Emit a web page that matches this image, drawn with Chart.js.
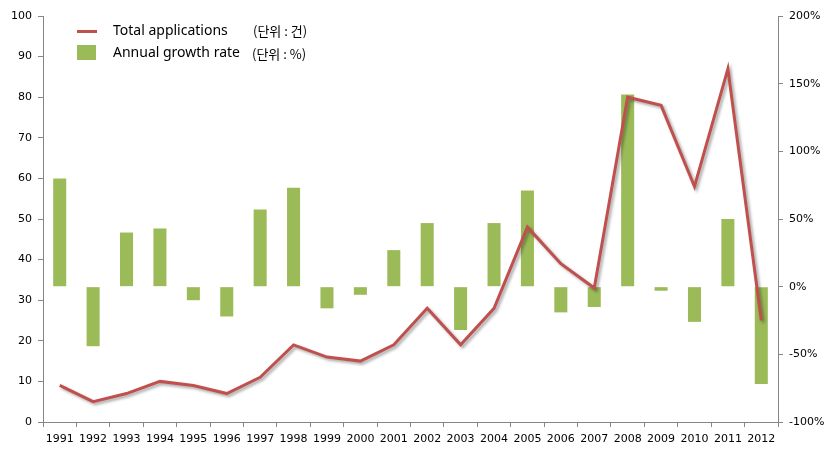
<!DOCTYPE html>
<html>
<head>
<meta charset="utf-8">
<script src="https://cdn.jsdelivr.net/npm/chart.js@4"></script>
<style>
  html, body { margin: 0; padding: 0; background: #fff; }
  #wrap { position: relative; width: 834px; height: 456px; }
  #legend { position: absolute; left: 77px; top: 20px; font-family: "Noto Sans", sans-serif; color: #000; }
  .row { position: relative; height: 22px; white-space: nowrap; }
  .swline { position: absolute; left: 0; top: 10px; width: 20px; height: 3px; background: #c0504d; }
  .swbox { position: absolute; left: 0; top: 3px; width: 19px; height: 15px; background: #9bbb59; }
  .lab { position: absolute; left: 36px; top: 0; font-size: 14px; line-height: 20px; }
  .unit { position: absolute; top: 1px; font-size: 13px; line-height: 20px; font-family: "Noto Sans CJK KR", sans-serif; }
</style>
</head>
<body>
<div id="wrap">
  <canvas id="c" width="834" height="456"></canvas>
  <div id="legend">
    <div class="row"><span class="swline"></span><span class="lab">Total applications</span><span class="unit" style="left:176px">(단위 : 건)</span></div>
    <div class="row"><span class="swbox"></span><span class="lab">Annual growth rate</span><span class="unit" style="left:175px;top:2px">(단위 : %)</span></div>
  </div>
</div>
<script>
const years = ["1991","1992","1993","1994","1995","1996","1997","1998","1999","2000","2001","2002","2003","2004","2005","2006","2007","2008","2009","2010","2011","2012"];
const totalApplications = [9, 5, 7, 10, 9, 7, 11, 19, 16, 15, 19, 28, 19, 28, 48, 39, 33, 80, 78, 58, 87, 25];
const growthRate = [80, -44, 40, 43, -10, -22, 57, 73, -16, -6, 27, 47, -32, 47, 71, -19, -15, 142, -3, -26, 50, -72];
const leftTicks = [0, 100, 10];
const rightTicks = [-100, 200, 50];

const shadowPlugin = {
  id: 'lineShadow',
  beforeDatasetDraw(chart, args) {
    if (chart.data.datasets[args.index].type === 'line') {
      const ctx = chart.ctx;
      ctx.save();
      ctx.shadowColor = 'rgba(0,0,0,0.35)';
      ctx.shadowBlur = 3;
      ctx.shadowOffsetX = 2;
      ctx.shadowOffsetY = 2;
    }
  },
  afterDatasetDraw(chart, args) {
    if (chart.data.datasets[args.index].type === 'line') {
      chart.ctx.restore();
    }
  }
};

const axisColor = '#868686';
const tickFont = { family: 'DejaVu Sans', size: 11 };

new Chart(document.getElementById('c'), {
  type: 'bar',
  data: {
    labels: years,
    datasets: [
      {
        type: 'line',
        label: 'Total applications',
        data: totalApplications,
        yAxisID: 'y',
        borderColor: '#c0504d',
        borderWidth: 3,
        pointRadius: 0,
        tension: 0,
        order: 0
      },
      {
        type: 'bar',
        label: 'Annual growth rate',
        data: growthRate,
        yAxisID: 'y1',
        backgroundColor: '#9bbb59',
        barPercentage: 0.39,
        categoryPercentage: 1.0,
        order: 1
      }
    ]
  },
  plugins: [shadowPlugin],
  options: {
    responsive: false,
    animation: false,
    layout: { padding: { top: 16, left: 0, right: 0, bottom: 0 } },
    plugins: { legend: { display: false }, tooltip: { enabled: false } },
    scales: {
      x: {
        offset: true,
        grid: { offset: true, drawOnChartArea: false, drawTicks: true, tickLength: 5, color: axisColor },
        border: { color: axisColor, width: 1 },
        ticks: { color: '#000', font: tickFont, maxRotation: 0, autoSkip: false, padding: 6 },
        afterFit(s) { s.height = 34; }
      },
      y: {
        position: 'left',
        min: leftTicks[0], max: leftTicks[1],
        ticks: { stepSize: leftTicks[2], color: '#000', font: tickFont, padding: 6 },
        grid: { drawOnChartArea: false, tickLength: 5, color: axisColor },
        border: { color: axisColor, width: 1 },
        afterFit(s) { s.width = 43; }
      },
      y1: {
        position: 'right',
        min: rightTicks[0], max: rightTicks[1],
        ticks: { stepSize: rightTicks[2], color: '#000', font: tickFont, padding: 6, callback: v => v + '%' },
        grid: { drawOnChartArea: false, tickLength: 5, color: axisColor },
        border: { color: axisColor, width: 1 },
        afterFit(s) { s.width = 56; }
      }
    }
  }
});
</script>
</body>
</html>
